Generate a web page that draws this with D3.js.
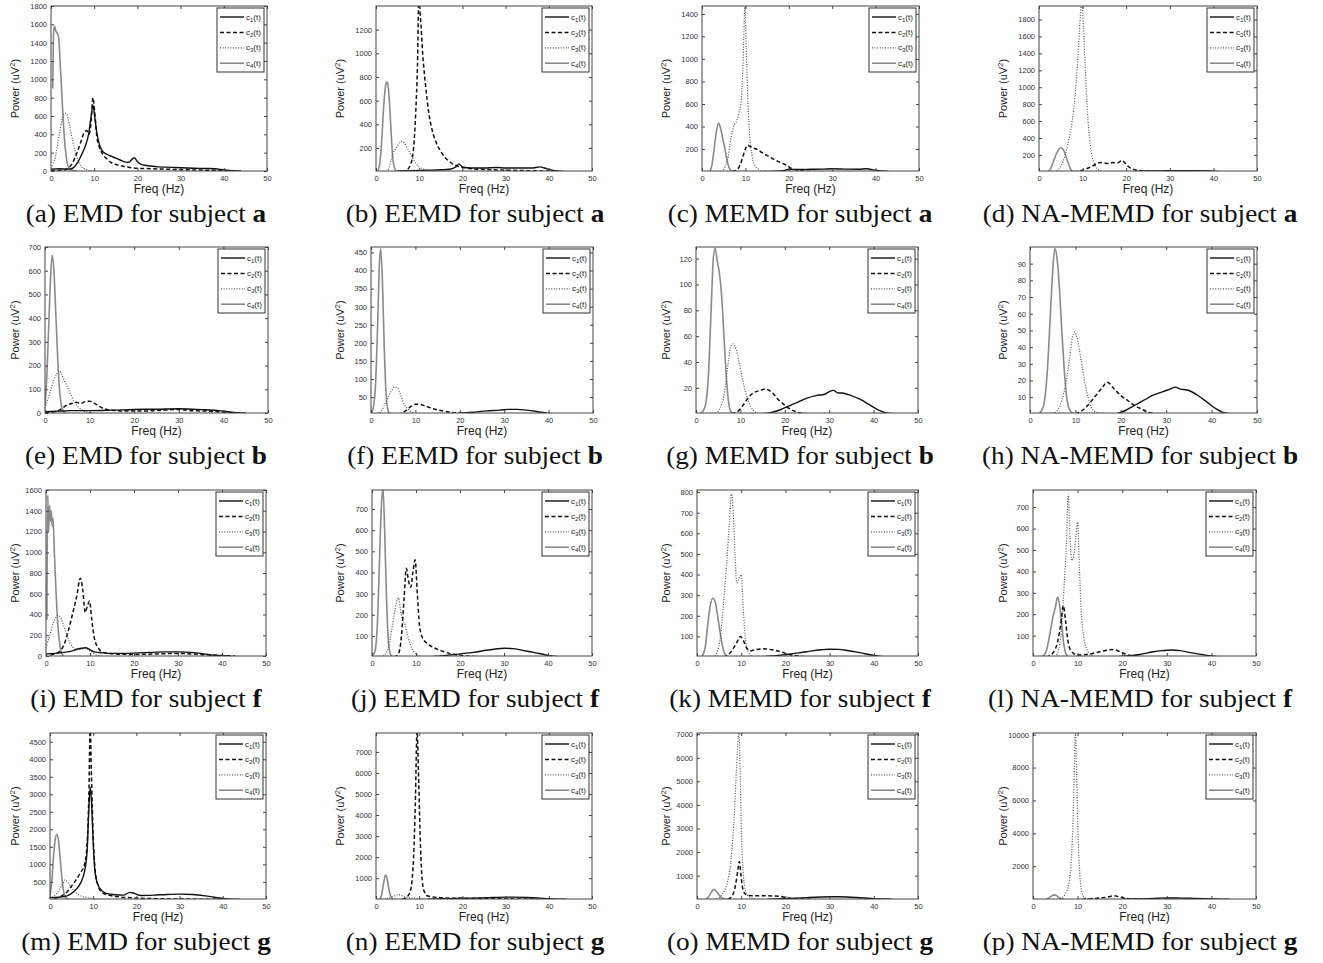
<!DOCTYPE html>
<html><head><meta charset="utf-8">
<script src="https://cdn.jsdelivr.net/npm/d3@7"></script>
<style>body{margin:0;background:#fff} svg{display:block}</style>
</head><body>
<svg id="c" width="1323" height="963"></svg>
<script>
// ---------------- DATA (frequency Hz, power uV^2) ----------------
const xTicks = [0,10,20,30,40,50];
const seriesNames = ["c1","c2","c3","c4"];
const methods = ["EMD","EEMD","MEMD","NA-MEMD"];
const subjects = ["a","b","f","g"];
const letters = "abcdefghijklmnop".split("");

// (a) EMD subject a
const a_c1=[[0,20],[2,25],[4,20],[5,30],[6,80],[7,170],[8,280],[8.7,400],[9.3,600],[9.7,720],[10.1,600],[10.6,420],[11.2,290],[12,210],[13,180],[14,160],[15,140],[16,120],[17,100],[18,95],[18.8,130],[19.3,145],[20,100],[21,70],[23,55],[25,45],[28,40],[30,35],[33,30],[36,28],[38,25],[40,12],[42,3],[44,0]];
const a_c2=[[0,5],[3,10],[4,30],[5,90],[6,200],[7,330],[7.8,430],[8.3,440],[8.8,400],[9.3,550],[9.7,800],[10.1,650],[10.6,380],[11.2,260],[12,180],[13,130],[14,90],[16,60],[18,40],[20,30],[23,25],[27,20],[30,15],[35,10],[40,5],[43,0]];
const a_c3=[[0,30],[0.5,80],[1,150],[1.5,280],[2,420],[2.5,550],[3,620],[3.5,630],[4,560],[4.5,450],[5,330],[5.5,230],[6,150],[6.5,90],[7,50],[8,20],[9,5],[10,0]];
const a_c4=[[0.4,900],[0.6,1500],[0.8,1580],[1.1,1530],[1.5,1500],[1.8,1450],[2.1,1200],[2.5,850],[2.9,500],[3.3,250],[3.7,100],[4.2,30],[5,8],[6,0]];
const yTicks_a=[0,200,400,600,800,1000,1200,1400,1600,1800]; const yDom_a=[0,1800];
// (b) EEMD subject a
const b_c1=[[5,5],[8,8],[10,10],[12,12],[15,15],[17,20],[18.5,40],[19.2,65],[20,40],[22,30],[25,30],[28,35],[30,30],[33,30],[36,30],[38,40],[39,30],[41,10],[43,2],[45,0]];
const b_c2=[[6,0],[7,10],[8,60],[8.7,200],[9.2,500],[9.6,900],[9.9,1450],[10.3,1300],[10.8,1000],[11.5,720],[12.2,500],[13,350],[14,240],[15,170],[16,120],[17,85],[18,60],[19,45],[20,35],[22,25],[25,18],[30,12],[35,8],[40,4],[43,0]];
const b_c3=[[2.5,0],[3,30],[3.5,100],[4,160],[4.5,190],[5,220],[5.5,245],[6,255],[6.5,245],[7,215],[8,150],[9,80],[10,40],[11,20],[12,10],[14,0]];
const b_c4=[[0.3,0],[0.8,50],[1.3,250],[1.8,560],[2.3,740],[2.6,760],[3,650],[3.4,400],[3.8,150],[4.2,40],[4.7,5],[5.5,0]];
const yTicks_b=[200,400,600,800,1000,1200]; const yDom_b=[5,1400];
// (c) MEMD subject a
const c_c1=[[14,0],[17,3],[19,10],[20,20],[22,18],[25,20],[28,22],[30,25],[33,22],[36,20],[38,25],[39,18],[41,6],[43,0]];
const c_c2=[[7,0],[8,15],[8.8,60],[9.4,130],[10,200],[10.5,235],[11,225],[11.5,215],[12.5,200],[14,165],[16,120],[17.5,90],[19,65],[19.5,55],[20.5,30],[22,12],[24,3],[26,0]];
const c_c3=[[4.5,0],[5.3,40],[6,130],[6.7,300],[7.3,400],[8,450],[8.5,520],[9,620],[9.3,800],[9.6,1150],[9.9,1500],[10.2,1100],[10.6,600],[11,320],[11.5,150],[12,70],[13,20],[14,0]];
const c_c4=[[1.8,0],[2.3,60],[2.8,200],[3.3,350],[3.8,430],[4.3,380],[4.8,290],[5.3,200],[5.8,90],[6.3,30],[6.8,5],[7.5,0]];
const yTicks_c=[200,400,600,800,1000,1200,1400]; const yDom_c=[5,1470];
// (d) NA-MEMD subject a
const d_c1=[[20,0],[23,5],[25,10],[28,12],[30,15],[33,15],[36,15],[39,12],[41,5],[43,0]];
const d_c2=[[8,0],[10,20],[11,40],[12,60],[13,90],[14,110],[15,105],[16,100],[17,110],[18,105],[19,135],[19.6,110],[20.3,70],[21,45],[22,25],[24,10],[26,3],[28,0]];
const d_c3=[[3.5,0],[4.5,30],[5.5,120],[6.5,300],[7.3,500],[8,750],[8.6,1100],[9.1,1500],[9.5,1850],[9.8,2000],[10.2,1700],[10.6,1250],[11,800],[11.5,450],[12,230],[12.7,100],[13.5,30],[14.5,5],[15.5,0]];
const d_c4=[[2,0],[2.5,20],[3,80],[3.5,150],[4,215],[4.5,260],[5,285],[5.5,270],[6,210],[6.5,130],[7,60],[7.5,15],[8,0]];
const yTicks_d=[200,400,600,800,1000,1200,1400,1600,1800]; const yDom_d=[10,1960];
// (e) EMD subject b
const e_c1=[[0,5],[3,8],[6,10],[10,10],[15,12],[20,15],[25,16],[30,18],[33,16],[36,14],[39,10],[41,5],[43,1],[45,0]];
const e_c2=[[0,2],[2,5],[3,10],[4,22],[5,35],[6,40],[7,45],[8,40],[9,48],[10,50],[11,42],[12,30],[13,20],[14,14],[16,10],[18,8],[20,8],[25,10],[30,15],[33,10],[36,8],[40,4],[43,0]];
const e_c3=[[0,20],[0.5,50],[1,80],[1.5,110],[2,140],[2.5,160],[3.2,178],[3.8,160],[4.5,130],[5.5,90],[6.5,50],[7.5,25],[8.5,10],[9.5,3],[11,0]];
const e_c4=[[0,30],[0.4,150],[0.8,350],[1.2,550],[1.6,665],[2,600],[2.4,430],[2.8,250],[3.2,110],[3.6,40],[4,10],[4.6,0]];
const yTicks_e=[0,100,200,300,400,500,600,700]; const yDom_e=[0,700];
// (f) EEMD subject b
const f_c1=[[14,2],[17,3],[20,5],[23,8],[26,12],[29,14],[31,16],[33,16],[35,14],[37,11],[39,7],[41,3],[43,0]];
const f_c2=[[6,2],[7,6],[8,14],[9,24],[10,30],[11,30],[12,26],[13,22],[14,18],[16,12],[18,8],[20,6],[22,4],[25,2],[28,0]];
const f_c3=[[1.5,2],[2.5,15],[3.5,40],[4.5,65],[5.3,78],[6,75],[6.7,55],[7.5,30],[8.5,15],[9.5,6],[11,0]];
const f_c4=[[0,5],[0.5,20],[1,80],[1.5,250],[1.9,420],[2.2,460],[2.6,360],[3,180],[3.4,60],[3.8,15],[4.3,3],[5,0]];
const yTicks_f=[50,100,150,200,250,300,350,400,450]; const yDom_f=[6,465];
// (g) MEMD subject b
const g_c1=[[15,0],[17,1],[19,3],[21,6],[23,9],[25,12],[27,14],[29,15],[30,17],[31,18],[32,16],[33,16],[34,15],[35,14],[37,11],[39,7],[41,3],[42.5,1],[44,0]];
const g_c2=[[8,0],[9.5,2],[10.5,6],[11.5,11],[12.5,15],[13.5,17],[14.5,18],[15.5,19],[16.5,18],[17.5,15],[18.5,11],[19.5,8],[20.5,5],[21.5,3],[23,1],[25,0]];
const g_c3=[[4.5,0],[5.5,5],[6.5,18],[7.2,38],[7.8,52],[8.3,54],[9,50],[9.7,40],[10.4,28],[11.2,16],[12,8],[12.8,3],[14,0]];
const g_c4=[[1,0],[2,5],[2.8,30],[3.4,80],[3.9,120],[4.3,128],[4.8,118],[5.3,108],[5.8,90],[6.3,60],[6.8,30],[7.3,10],[7.8,2],[8.5,0]];
const yTicks_g=[20,40,60,80,100,120]; const yDom_g=[0.5,129];
// (h) NA-MEMD subject b
const h_c1=[[19,0],[21,2],[23,5],[25,8],[27,11],[29,13],[31,15],[32,16],[33,15],[35,14],[37,11],[39,7],[41,3],[43,0.5],[45,0]];
const h_c2=[[10,0],[11.5,2],[13,6],[14.5,11],[16,16],[17,19],[18.5,15],[20,11],[21.5,8],[23,5],[24.5,3],[26,1],[28,0]];
const h_c3=[[5,0],[6,2],[7,8],[8,20],[8.7,33],[9.3,45],[9.8,49],[10.5,44],[11.2,33],[12,20],[12.8,10],[13.5,4],[14.5,1],[16,0]];
const h_c4=[[2,0],[3,5],[3.8,25],[4.5,60],[5.1,90],[5.5,99],[6,92],[6.5,75],[7,50],[7.5,28],[8,12],[8.5,4],[9.5,0]];
const yTicks_h=[10,20,30,40,50,60,70,80,90]; const yDom_h=[0.5,100];
// (i) EMD subject f
const i_c1=[[0,20],[2,25],[4,35],[6,50],[7,65],[8,75],[9,80],[10,60],[11,40],[13,30],[15,25],[18,25],[21,30],[24,35],[27,40],[30,40],[33,35],[36,20],[38,8],[40,2],[42,0]];
const i_c2=[[1,10],[2,20],[3,40],[4,100],[5,230],[6,400],[7,580],[7.8,750],[8.4,620],[8.9,420],[9.4,480],[9.9,530],[10.4,350],[11,170],[12,70],[13,35],[15,22],[20,15],[25,20],[30,25],[35,15],[40,5],[43,0]];
const i_c3=[[0,80],[0.5,150],[1,220],[1.5,300],[2,350],[2.6,390],[3.2,380],[3.8,320],[4.5,230],[5.2,150],[6,90],[7,60],[8,65],[9,75],[10,50],[11,20],[12,5],[13,0]];
const i_c4=[[0.2,350],[0.4,1550],[0.6,1200],[0.8,1450],[1,1300],[1.2,1400],[1.4,1250],[1.6,1330],[1.9,1000],[2.3,600],[2.7,300],[3.1,120],[3.5,30],[4,0]];
const yTicks_i=[0,200,400,600,800,1000,1200,1400,1600]; const yDom_i=[0,1600];
// (j) EEMD subject f
const j_c1=[[14,3],[17,8],[20,15],[23,22],[26,32],[28,38],[30,42],[32,40],[34,33],[36,25],[38,17],[40,8],[42,2],[44,0]];
const j_c2=[[5,0],[6,15],[6.7,100],[7.3,280],[7.8,420],[8.3,360],[8.8,330],[9.3,400],[9.8,460],[10.3,300],[10.8,150],[11.5,90],[12.5,65],[14,45],[16,28],[18,15],[20,8],[23,3],[26,0]];
const j_c3=[[2.5,5],[3.5,30],[4.5,130],[5.3,230],[6,280],[6.5,220],[7,170],[7.4,160],[8,110],[8.7,60],[9.5,25],[10.5,8],[12,0]];
const j_c4=[[0,5],[0.7,30],[1.2,150],[1.7,450],[2.1,700],[2.5,800],[2.9,580],[3.3,280],[3.7,80],[4.1,20],[4.6,0]];
const yTicks_j=[100,200,300,400,500,600,700]; const yDom_j=[5,790];
// (k) MEMD subject f
const k_c1=[[14,0],[17,5],[20,12],[23,20],[26,30],[28,35],[30,38],[32,37],[34,32],[36,25],[38,16],[40,8],[42,2],[44,0]];
const k_c2=[[6,0],[7,10],[8,35],[9,70],[9.8,100],[10.5,80],[11.2,45],[12,30],[13,35],[15,40],[17,35],[19,25],[21,12],[23,5],[25,0]];
const k_c3=[[3.5,0],[4.5,20],[5.3,100],[6,260],[6.7,450],[7.3,640],[7.8,790],[8.2,700],[8.6,500],[9,360],[9.5,380],[10,400],[10.5,220],[11,80],[11.6,25],[12.5,5],[13.5,0]];
const k_c4=[[1,0],[1.8,40],[2.4,150],[3,250],[3.6,285],[4.2,260],[4.8,180],[5.3,110],[5.8,50],[6.3,15],[7,0]];
const yTicks_k=[100,200,300,400,500,600,700,800]; const yDom_k=[5,810];
// (l) NA-MEMD subject f
const l_c1=[[18,0],[21,5],[24,12],[27,25],[29,30],[31,33],[33,30],[35,22],[37,15],[39,8],[41,3],[43,0]];
const l_c2=[[3,0],[4.5,20],[5.5,70],[6.2,150],[6.8,240],[7.3,170],[7.8,80],[8.5,30],[10,10],[12,12],[14,20],[16,30],[18,35],[19.5,25],[21,12],[23,4],[25,0]];
const l_c3=[[5,0],[6,60],[6.6,200],[7.1,380],[7.5,520],[7.9,760],[8.3,560],[8.7,450],[9.2,480],[9.6,560],[10,630],[10.4,420],[10.8,220],[11.4,90],[12,40],[13,10],[14,0]];
const l_c4=[[2,0],[3,30],[3.8,110],[4.5,190],[5,230],[5.5,280],[5.9,250],[6.4,160],[6.9,60],[7.4,15],[8,0]];
const yTicks_l=[100,200,300,400,500,600,700]; const yDom_l=[5,780];
// (m) EMD subject g
const m_c1=[[0,50],[2,60],[4,100],[5,170],[6,280],[7,450],[8,800],[8.6,1400],[9.0,2600],[9.3,3200],[9.6,2800],[10,1600],[10.4,800],[11,450],[12,250],[13,170],[15,130],[17,120],[18.5,200],[19.5,170],[21,110],[24,120],[27,140],[30,150],[33,140],[36,100],[38,60],[40,25],[42,5],[44,0]];
const m_c2=[[1,30],[2,60],[3,120],[4,220],[5,380],[6,550],[7,750],[8,1000],[8.6,1600],[9.0,3000],[9.3,4900],[9.6,3500],[10,1800],[10.4,900],[11,450],[12,200],[14,110],[16,70],[18,50],[20,35],[25,20],[30,10],[35,5],[40,0]];
const m_c3=[[0,30],[1,100],[2,250],[3,450],[3.5,560],[4,500],[4.7,380],[5.5,250],[6.5,140],[7.5,80],[8.5,50],[9.5,30],[10.5,10],[12,0]];
const m_c4=[[0,100],[0.4,500],[0.8,1200],[1.2,1700],[1.6,1860],[2,1650],[2.4,1100],[2.8,550],[3.2,200],[3.6,60],[4,15],[4.6,0]];
const yTicks_m=[500,1000,1500,2000,2500,3000,3500,4000,4500]; const yDom_m=[10,4750];
// (n) EEMD subject g
const n_c1=[[12,0],[15,20],[18,40],[21,50],[24,60],[27,80],[30,100],[32,100],[35,80],[38,50],[40,20],[42,5],[44,0]];
const n_c2=[[6,0],[7,80],[7.8,300],[8.3,800],[8.7,2000],[9.1,4500],[9.5,8000],[9.9,5500],[10.3,2500],[10.7,900],[11.2,350],[12,150],[14,90],[16,60],[18,45],[20,40],[25,30],[30,20],[35,10],[40,0]];
const n_c3=[[2.5,20],[3.5,100],[4.5,180],[5.2,220],[6,160],[7,90],[8,60],[9,55],[10,30],[11,10],[12.5,0]];
const n_c4=[[0.8,0],[1.3,200],[1.8,800],[2.2,1150],[2.6,950],[3,450],[3.4,150],[3.8,30],[4.3,0]];
const yTicks_n=[1000,2000,3000,4000,5000,6000,7000]; const yDom_n=[10,7900];
// (o) MEMD subject g
const o_c1=[[16,0],[19,20],[22,40],[25,70],[28,95],[30,105],[32,105],[34,95],[36,75],[38,50],[40,25],[42,8],[44,0]];
const o_c2=[[7,0],[7.8,100],[8.4,350],[8.9,800],[9.3,1300],[9.6,1600],[9.9,1100],[10.3,500],[10.8,250],[11.5,160],[13,150],[15,150],[17,140],[19,120],[20,70],[22,25],[24,5],[26,0]];
const o_c3=[[4.5,0],[5.5,150],[6.3,400],[7,800],[7.6,1500],[8.1,2600],[8.5,3800],[8.9,5400],[9.2,6500],[9.5,7100],[9.8,5000],[10.1,2500],[10.5,1000],[11,350],[11.7,120],[12.5,40],[14,0]];
const o_c4=[[2,0],[2.6,100],[3.2,280],[3.8,420],[4.4,330],[5,180],[5.6,60],[6.2,10],[7,0]];
const yTicks_o=[1000,2000,3000,4000,5000,6000,7000]; const yDom_o=[10,7050];
// (p) NA-MEMD subject g
const p_c1=[[20,0],[23,15],[26,35],[28,55],[30,70],[32,70],[34,60],[36,45],[38,28],[40,12],[42,3],[44,0]];
const p_c2=[[11,0],[13,30],[15,70],[16.5,120],[17.5,180],[18.3,200],[19.2,150],[20.5,70],[22,25],[24,5],[26,0]];
const p_c3=[[5.5,0],[6.5,100],[7.3,350],[8,900],[8.5,2000],[8.9,4200],[9.2,7000],[9.5,10200],[9.8,7500],[10.1,4000],[10.5,1500],[11,400],[11.6,80],[12.5,10],[13.5,0]];
const p_c4=[[3,0],[3.6,80],[4.2,200],[4.7,260],[5.2,220],[5.8,110],[6.4,30],[7,0]];
const yTicks_p=[2000,4000,6000,8000,10000]; const yDom_p=[10,10100];

// ---------------- assemble ----------------
const panelSeries=[
 [a_c1,a_c2,a_c3,a_c4],[b_c1,b_c2,b_c3,b_c4],[c_c1,c_c2,c_c3,c_c4],[d_c1,d_c2,d_c3,d_c4],
 [e_c1,e_c2,e_c3,e_c4],[f_c1,f_c2,f_c3,f_c4],[g_c1,g_c2,g_c3,g_c4],[h_c1,h_c2,h_c3,h_c4],
 [i_c1,i_c2,i_c3,i_c4],[j_c1,j_c2,j_c3,j_c4],[k_c1,k_c2,k_c3,k_c4],[l_c1,l_c2,l_c3,l_c4],
 [m_c1,m_c2,m_c3,m_c4],[n_c1,n_c2,n_c3,n_c4],[o_c1,o_c2,o_c3,o_c4],[p_c1,p_c2,p_c3,p_c4]];
const panelTicks=[yTicks_a,yTicks_b,yTicks_c,yTicks_d,yTicks_e,yTicks_f,yTicks_g,yTicks_h,yTicks_i,yTicks_j,yTicks_k,yTicks_l,yTicks_m,yTicks_n,yTicks_o,yTicks_p];
const panelDom=[yDom_a,yDom_b,yDom_c,yDom_d,yDom_e,yDom_f,yDom_g,yDom_h,yDom_i,yDom_j,yDom_k,yDom_l,yDom_m,yDom_n,yDom_o,yDom_p];

// ---------------- layout ----------------
const rowTop=[6,247,490,733], rowBot=[171,413,656,899];
const colL=[[51,376,702,1039],[45,371,696,1030],[46,372,697,1033],[50,376,697,1033]];
const colR=[[267,592,919,1257],[268,593,918,1257],[266,592,918,1256],[266,592,918,1256]];
const ylabX=[15,340,666,1003];
const capX=[146,475,800,1140];
const SANS="'Liberation Sans', Arial, sans-serif";
const SERIF="'Liberation Serif', 'Times New Roman', serif";
const styles=[
 {stroke:"#111",width:1.4,dash:null},
 {stroke:"#111",width:1.5,dash:"4,2.5"},
 {stroke:"#555",width:1.2,dash:"1,1.6"},
 {stroke:"#8a8a8a",width:1.6,dash:null}];

const svg=d3.select("#c");

function drawPanel(k){
  const r=Math.floor(k/4), c=k%4;
  const L=colL[r][c], R=colR[r][c], T=rowTop[r], B=rowBot[r];
  const x=d3.scaleLinear().domain([0,50]).range([L,R]);
  const y=d3.scaleLinear().domain(panelDom[k]).range([B,T]);
  const g=svg.append("g");
  const cid="clip"+k;
  svg.append("clipPath").attr("id",cid).append("rect").attr("x",L).attr("y",T).attr("width",R-L).attr("height",B-T);
  const line=d3.line().x(d=>x(d[0])).y(d=>y(d[1])).curve(d3.curveMonotoneX);
  [3,2,1,0].forEach(i=>{
    const s=styles[i];
    g.append("path").attr("d",line(panelSeries[k][i])).attr("clip-path",`url(#${cid})`)
     .attr("fill","none").attr("stroke",s.stroke).attr("stroke-width",s.width)
     .attr("stroke-dasharray",s.dash).attr("stroke-linejoin","round");
  });
  const ax=(sel)=>{sel.select(".domain").remove(); sel.selectAll(".tick line").attr("stroke","#444"); sel.selectAll("text").attr("fill","#333").style("font-family",SANS).style("font-size","7.5px");};
  g.append("g").attr("transform",`translate(0,${B})`).call(d3.axisBottom(x).tickValues(xTicks).tickSizeInner(-3).tickSizeOuter(0).tickPadding(5)).call(ax);
  g.append("g").attr("transform",`translate(0,${T})`).call(d3.axisTop(x).tickValues(xTicks).tickSizeInner(-3).tickSizeOuter(0).tickFormat("")).call(ax);
  g.append("g").attr("transform",`translate(${L},0)`).call(d3.axisLeft(y).tickValues(panelTicks[k]).tickSizeInner(-3).tickSizeOuter(0).tickPadding(4).tickFormat(d3.format("d"))).call(ax);
  g.append("g").attr("transform",`translate(${R},0)`).call(d3.axisRight(y).tickValues(panelTicks[k]).tickSizeInner(-3).tickSizeOuter(0).tickFormat("")).call(ax);
  g.append("rect").attr("x",L).attr("y",T).attr("width",R-L).attr("height",B-T).attr("fill","none").attr("stroke","#444").attr("stroke-width",1);
  g.append("text").attr("x",(L+R)/2).attr("y",B+22).attr("text-anchor","middle").style("font-family",SANS).style("font-size","12px").attr("fill","#222").text("Freq (Hz)");
  const yl=g.append("text").attr("transform",`translate(${ylabX[c]+4},${(T+B)/2}) rotate(-90)`).attr("text-anchor","middle").style("font-family",SANS).style("font-size","11px").attr("fill","#222");
  yl.append("tspan").text("Power (uV");
  yl.append("tspan").attr("dy",-4).style("font-size","8px").text("2");
  yl.append("tspan").attr("dy",4).text(")");
  const lw=47, lh=64, lx=R-3-lw, ly=T+2;
  g.append("rect").attr("x",lx).attr("y",ly).attr("width",lw).attr("height",lh).attr("fill","#fff").attr("stroke","#333").attr("stroke-width",1);
  seriesNames.forEach((nm,i)=>{
    const yy=ly+9+i*15.4, s=styles[i];
    g.append("line").attr("x1",lx+3).attr("x2",lx+27).attr("y1",yy).attr("y2",yy)
      .attr("stroke",s.stroke).attr("stroke-width",s.width).attr("stroke-dasharray",s.dash);
    const t=g.append("text").attr("x",lx+29).attr("y",yy+2.5).style("font-family",SANS).style("font-size","8px").attr("fill","#222");
    t.append("tspan").text("c");
    t.append("tspan").attr("dy",2).style("font-size","6px").text(String(i+1));
    t.append("tspan").attr("dy",-2).text("(t)");
  });
  const cap=svg.append("text").attr("transform",`translate(${capX[c]},${B+51}) scale(1.09,1)`).attr("text-anchor","middle").style("font-family",SERIF).style("font-size","25px").attr("fill","#111");
  cap.append("tspan").text(`(${letters[k]}) ${methods[c]} for subject `);
  cap.append("tspan").style("font-weight","bold").text(subjects[r]);
}
for(let k=0;k<16;k++) drawPanel(k);
</script>
</body></html>
